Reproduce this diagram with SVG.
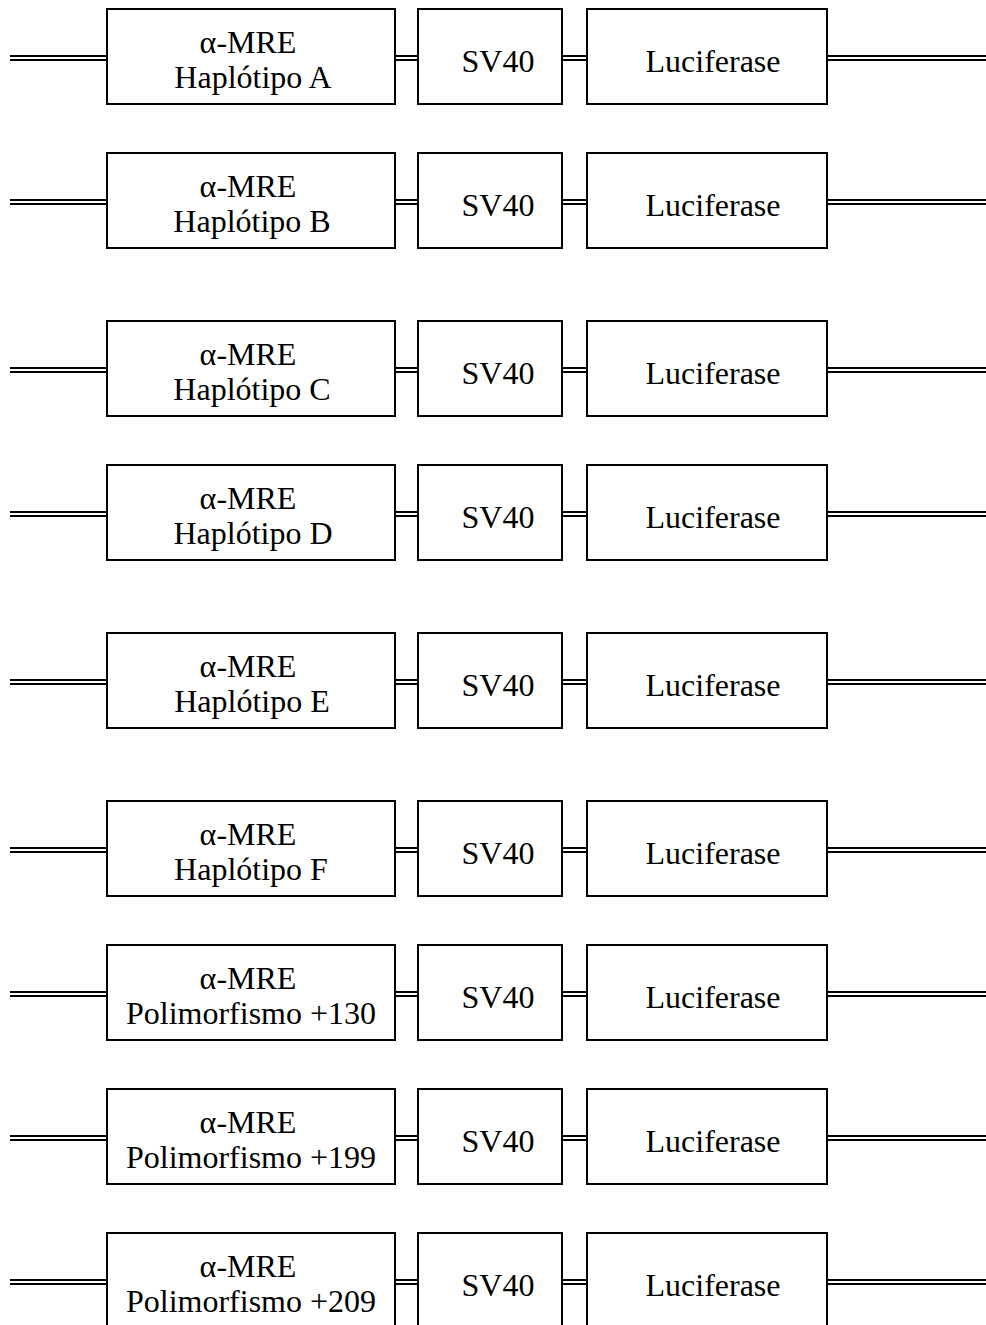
<svg xmlns="http://www.w3.org/2000/svg" width="986" height="1325" viewBox="0 0 986 1325">
<style>
.box{fill:#fff;stroke:#000;stroke-width:2}
.t{font-family:"Liberation Serif","Times New Roman",serif;font-size:32px;fill:#000;text-anchor:middle}
.dl{stroke:#000;stroke-width:1.8;fill:none}
</style>
<defs>
<g id="conn">
<path class="dl" d="M10 47H107M10 51H107M395 47H418M395 51H418M562 47H587M562 51H587M827 47H986M827 51H986"/>
</g>
<rect id="b1" class="box" x="107" y="0" width="288" height="95"/>
<rect id="b2" class="box" x="418" y="0" width="144" height="95"/>
<rect id="b3" class="box" x="587" y="0" width="240" height="95"/>
</defs>
<g id="connectors">
<use href="#conn" transform="translate(0,9)"/>
<use href="#conn" transform="translate(0,153)"/>
<use href="#conn" transform="translate(0,321)"/>
<use href="#conn" transform="translate(0,465)"/>
<use href="#conn" transform="translate(0,633)"/>
<use href="#conn" transform="translate(0,801)"/>
<use href="#conn" transform="translate(0,945)"/>
<use href="#conn" transform="translate(0,1089)"/>
<use href="#conn" transform="translate(0,1233)"/>
</g>
<g id="row-A" transform="translate(0,9)">
<g id="mre-A"><use href="#b1"/><text class="t" x="248" y="44">α-MRE</text><text class="t" x="253" y="79">Haplótipo A</text></g>
<g id="sv40-A"><use href="#b2"/><text class="t" x="498" y="63">SV40</text></g>
<g id="luc-A"><use href="#b3"/><text class="t" x="713" y="63">Luciferase</text></g>
</g>
<g id="row-B" transform="translate(0,153)">
<g id="mre-B"><use href="#b1"/><text class="t" x="248" y="44">α-MRE</text><text class="t" x="252" y="79">Haplótipo B</text></g>
<g id="sv40-B"><use href="#b2"/><text class="t" x="498" y="63">SV40</text></g>
<g id="luc-B"><use href="#b3"/><text class="t" x="713" y="63">Luciferase</text></g>
</g>
<g id="row-C" transform="translate(0,321)">
<g id="mre-C"><use href="#b1"/><text class="t" x="248" y="44">α-MRE</text><text class="t" x="252" y="79">Haplótipo C</text></g>
<g id="sv40-C"><use href="#b2"/><text class="t" x="498" y="63">SV40</text></g>
<g id="luc-C"><use href="#b3"/><text class="t" x="713" y="63">Luciferase</text></g>
</g>
<g id="row-D" transform="translate(0,465)">
<g id="mre-D"><use href="#b1"/><text class="t" x="248" y="44">α-MRE</text><text class="t" x="253" y="79">Haplótipo D</text></g>
<g id="sv40-D"><use href="#b2"/><text class="t" x="498" y="63">SV40</text></g>
<g id="luc-D"><use href="#b3"/><text class="t" x="713" y="63">Luciferase</text></g>
</g>
<g id="row-E" transform="translate(0,633)">
<g id="mre-E"><use href="#b1"/><text class="t" x="248" y="44">α-MRE</text><text class="t" x="252" y="79">Haplótipo E</text></g>
<g id="sv40-E"><use href="#b2"/><text class="t" x="498" y="63">SV40</text></g>
<g id="luc-E"><use href="#b3"/><text class="t" x="713" y="63">Luciferase</text></g>
</g>
<g id="row-F" transform="translate(0,801)">
<g id="mre-F"><use href="#b1"/><text class="t" x="248" y="44">α-MRE</text><text class="t" x="251" y="79">Haplótipo F</text></g>
<g id="sv40-F"><use href="#b2"/><text class="t" x="498" y="63">SV40</text></g>
<g id="luc-F"><use href="#b3"/><text class="t" x="713" y="63">Luciferase</text></g>
</g>
<g id="row-130" transform="translate(0,945)">
<g id="mre-130"><use href="#b1"/><text class="t" x="248" y="44">α-MRE</text><text class="t" x="251" y="79">Polimorfismo +130</text></g>
<g id="sv40-130"><use href="#b2"/><text class="t" x="498" y="63">SV40</text></g>
<g id="luc-130"><use href="#b3"/><text class="t" x="713" y="63">Luciferase</text></g>
</g>
<g id="row-199" transform="translate(0,1089)">
<g id="mre-199"><use href="#b1"/><text class="t" x="248" y="44">α-MRE</text><text class="t" x="251" y="79">Polimorfismo +199</text></g>
<g id="sv40-199"><use href="#b2"/><text class="t" x="498" y="63">SV40</text></g>
<g id="luc-199"><use href="#b3"/><text class="t" x="713" y="63">Luciferase</text></g>
</g>
<g id="row-209" transform="translate(0,1233)">
<g id="mre-209"><use href="#b1"/><text class="t" x="248" y="44">α-MRE</text><text class="t" x="251" y="79">Polimorfismo +209</text></g>
<g id="sv40-209"><use href="#b2"/><text class="t" x="498" y="63">SV40</text></g>
<g id="luc-209"><use href="#b3"/><text class="t" x="713" y="63">Luciferase</text></g>
</g>
</svg>
